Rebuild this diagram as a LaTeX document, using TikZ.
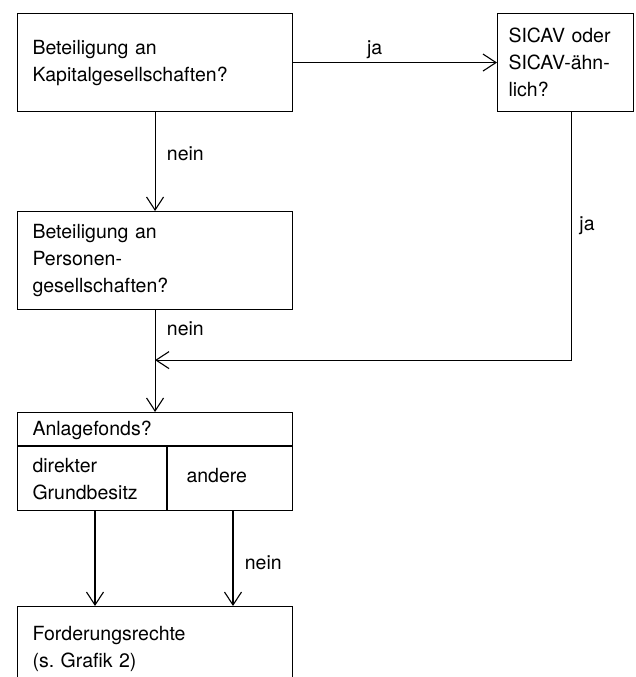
\documentclass[tikz,border=0pt]{standalone}
\usepackage{fontspec}
\setmainfont{TeX Gyre Heros}
\usetikzlibrary{arrows.meta}

\begin{document}
\begin{tikzpicture}[x=1pt, y=-1pt, line width=1.1pt,
    font=\fontsize{19.5}{27}\selectfont,
    box/.style={draw, anchor=north west, minimum height=98pt, text width=245pt,
        inner xsep=15pt, inner ysep=0pt, align=left},
    arr/.style={-{Straight Barb[length=13pt, width=17pt]}}]
    \clip (0,0) rectangle (635,677);

    % The questions
    \node[box] (kapital) at (17,13) {Beteiligung an\\Kapitalgesellschaften?};
    \node[box, text width=114pt, inner xsep=11pt] (sicav) at (497,13) {SICAV oder\\SICAV-ähn-\\lich?};
    \node[box] (personen) at (17,211) {Beteiligung an\\Personen-\\gesellschaften?};

    % Anlagefonds, split in two
    \node[box] (fonds) at (17,412) {};
    \draw ([yshift=-34pt]fonds.north west) -- ([yshift=-34pt]fonds.north east);
    \draw ([shift={(150,34)}]fonds.north west) -- ([xshift=150pt]fonds.south west);
    \node[anchor=west, inner sep=0pt] (anlage) at ([shift={(15,18)}]fonds.north west) {Anlagefonds?};
    \node[anchor=west, inner sep=0pt, align=left] (grund) at ([shift={(15,67)}]fonds.north west) {direkter\\Grundbesitz};
    \node[anchor=west, inner sep=0pt] (andere) at ([shift={(169,64)}]fonds.north west) {andere};

    % Result, runs off the bottom
    \node[box, minimum height=0pt, inner ysep=20pt, text depth=80pt] (forderung) at (17,606) {Forderungsrechte\\(s.\ Grafik 2)};

    % Connectors
    \draw[arr] (kapital) -- node[above, pos=0.4] {ja} (sicav);
    \draw[arr] (kapital) -- node[right=8pt, pos=0.42] {nein} (personen);
    \draw[arr] (personen) -- node[right=8pt, pos=0.18] {nein} (fonds);
    \coordinate (merge) at ([yshift=-50pt]personen.south);
    \draw[arr] ([xshift=6pt]sicav.south) |- node[right=4pt, pos=0.23] {ja} (merge);
    \draw[arr] ([xshift=78pt]fonds.south west) -- ([xshift=78pt]forderung.north west);
    \draw[arr] ([xshift=216pt]fonds.south west) -- node[right=8pt, pos=0.54] {nein} ([xshift=216pt]forderung.north west);
\end{tikzpicture}
\end{document}
